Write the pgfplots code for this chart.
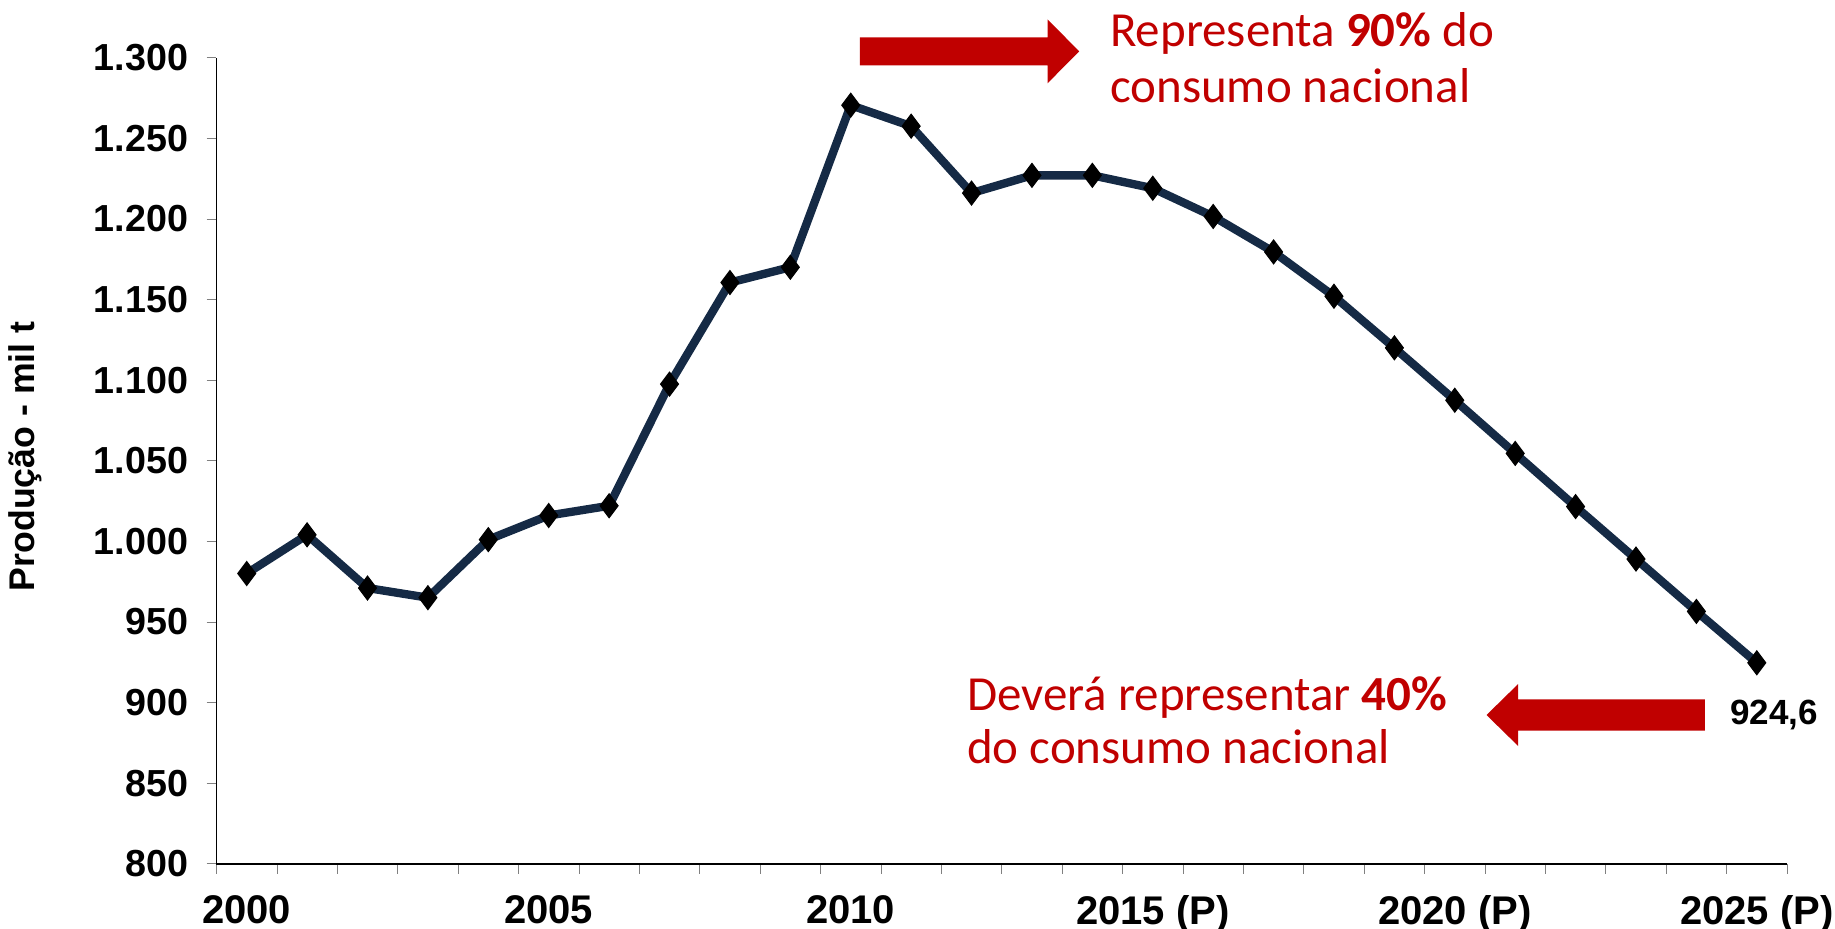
\documentclass[border=0pt]{standalone}
\usepackage{pgfplots}
\pgfplotsset{compat=1.18}
\usepackage{fontspec}
\setmainfont{Liberation Sans}
\newfontfamily\calibri{Carlito}
\definecolor{navy}{HTML}{152A45}
\definecolor{vermelho}{HTML}{C00000}
\begin{document}
\begin{tikzpicture}
\useasboundingbox (-64.95pt,-19.59pt) rectangle (485.55pt,259.1pt);
\begin{axis}[
  scale only axis,
  width=471.15pt, height=241.8pt,
  xmin=1999.5, xmax=2025.5,
  ymin=800, ymax=1300,
  axis x line*=bottom, axis y line*=left,
  axis line style={black, line width=0.5pt},
  tick align=outside,
  major tick length=3pt,
  xtick={1999.5,2000.5,...,2025.5},
  xticklabels={},
  extra x ticks={2000,2005,2010,2015,2020,2025},
  extra x tick labels={2000,2005,2010,2015 (P),2020 (P),2025 (P)},
  extra x tick style={major tick length=0pt, tick label style={font=\bfseries\fontsize{12}{14}\selectfont, yshift=-6pt}},
  ytick={800,850,...,1300},
  yticklabel style={font=\bfseries\fontsize{11.3}{13}\selectfont, xshift=-2pt,
    /pgf/number format/.cd, use comma, 1000 sep={.}, assume math mode=true},
  ylabel={Produção - mil t},
  ylabel style={font=\bfseries\fontsize{10.7}{12}\selectfont, at={(rel axis cs:0,0.5)}, anchor=center, yshift=57.3pt, xshift=1.3pt},
  clip=false,
]
\addplot[navy, line width=2.5pt, mark=diamond*, mark size=3.6pt, mark options={black, fill=black, line width=0.3pt}] coordinates {
(2000,980) (2001,1004) (2002,971) (2003,965) (2004,1001) (2005,1016) (2006,1022)
(2007,1097.5) (2008,1160.5) (2009,1170) (2010,1270.5) (2011,1257.5) (2012,1216)
(2013,1227) (2014,1227) (2015,1219) (2016,1201.5) (2017,1179.5) (2018,1152)
(2019,1120) (2020,1087.5) (2021,1054.5) (2022,1021.5) (2023,989) (2024,956.5) (2025,924.6)
};
\end{axis}
% annotations (positions in pt relative to axis origin)
\fill[vermelho] (193pt,239.5pt) -- (249.3pt,239.5pt) -- (249.3pt,234.1pt) -- (258.8pt,243.7pt) -- (249.3pt,253.3pt) -- (249.3pt,247.9pt) -- (193pt,247.9pt) -- cycle;
\node[anchor=base west, inner sep=0pt, text=vermelho, font=\calibri\fontsize{14.7}{16.5}\selectfont, align=left] at (267.9pt,245.1pt) {Representa \textbf{90\%} do};
\node[anchor=base west, inner sep=0pt, text=vermelho, font=\calibri\fontsize{14.7}{16.5}\selectfont] at (267.9pt,228.2pt) {consumo nacional};
\fill[vermelho] (446.5pt,39.9pt) -- (390.5pt,39.9pt) -- (390.5pt,35.3pt) -- (381pt,44.6pt) -- (390.5pt,53.9pt) -- (390.5pt,49.3pt) -- (446.5pt,49.3pt) -- cycle;
\node[anchor=base west, inner sep=0pt, text=vermelho, font=\calibri\fontsize{14.7}{16.5}\selectfont] at (225pt,46.1pt) {Deverá representar \textbf{40\%}};
\node[anchor=base west, inner sep=0pt, text=vermelho, font=\calibri\fontsize{14.7}{16.5}\selectfont] at (225pt,30.2pt) {do consumo nacional};
\node[inner sep=0pt, font=\bfseries\fontsize{10.5}{12}\selectfont] at (467.3pt,44.6pt) {924,6};
\end{tikzpicture}
\end{document}
